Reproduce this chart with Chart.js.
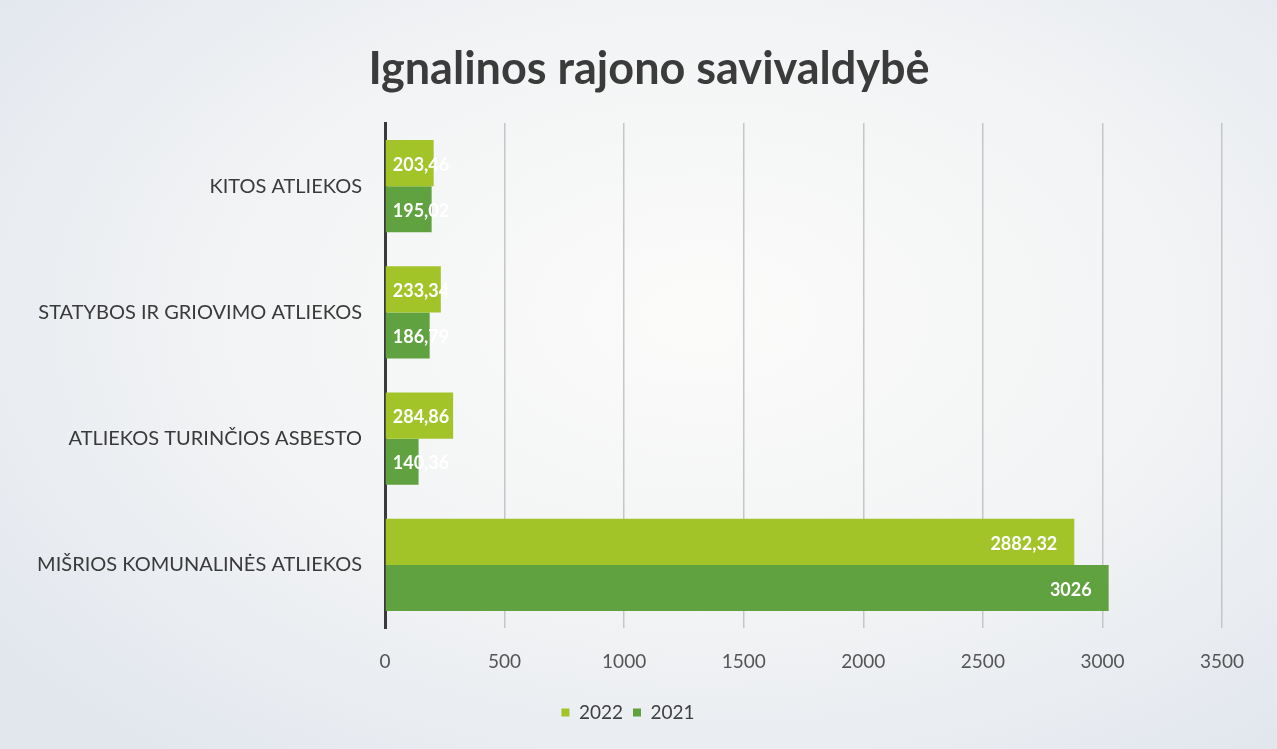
<!DOCTYPE html>
<html lang="lt">
<head>
<meta charset="utf-8">
<title>Ignalinos rajono savivaldybė</title>
<script src="https://cdn.jsdelivr.net/npm/chart.js@4.4.1/dist/chart.umd.min.js"></script>
<style>
  html, body { margin: 0; padding: 0; }
  body {
    width: 1277px; height: 749px; overflow: hidden;
    background: radial-gradient(ellipse 70% 75% at 55% 42%, #fbfbfa 0%, #f3f4f5 50%, #e2e7ee 100%);
  }
  #wrap { position: absolute; left: 0; top: 0; width: 1277px; height: 749px; }
</style>
</head>
<body>
<div id="wrap"><canvas id="chart" width="1277" height="749"></canvas></div>
<script>
  // ── Data ────────────────────────────────────────────────────────────────
  const chartTitle = 'Ignalinos rajono savivaldybė';
  const categories = [
    'KITOS ATLIEKOS',
    'STATYBOS IR GRIOVIMO ATLIEKOS',
    'ATLIEKOS TURINČIOS ASBESTO',
    'MIŠRIOS KOMUNALINĖS ATLIEKOS'
  ];
  const values2022 = [203.46, 233.34, 284.86, 2882.32];
  const values2021 = [195.02, 186.79, 140.36, 3026];
  const seriesNames = ['2022', '2021'];
  const xTicks = [0, 500, 1000, 1500, 2000, 2500, 3000, 3500];

  const COLOR_2022 = '#a2c428';
  const COLOR_2021 = '#5fa23f';
  const FONT = "Lato, 'Open Sans', sans-serif";
  const PAD_LEFT = 34;

  // Title drawn by hand so it can sit slightly right of the canvas centre
  const titlePlugin = {
    id: 'offsetTitle',
    afterDraw(chart) {
      const ctx = chart.ctx;
      ctx.save();
      ctx.font = 'bold 45px ' + FONT;
      ctx.fillStyle = '#3b3b3b';
      ctx.textAlign = 'center';
      ctx.textBaseline = 'alphabetic';
      ctx.fillText(chartTitle, 649, 84);
      ctx.restore();
    }
  };

  // Value labels inside bar end (white), comma as decimal separator
  const barLabels = {
    id: 'barLabels',
    afterDatasetsDraw(chart) {
      const ctx = chart.ctx;
      ctx.save();
      ctx.font = 'bold 18px ' + FONT;
      ctx.fillStyle = '#ffffff';
      ctx.textBaseline = 'middle';
      chart.data.datasets.forEach((ds, di) => {
        chart.getDatasetMeta(di).data.forEach((bar, i) => {
          const txt = String(ds.data[i]).replace('.', ',');
          const w = ctx.measureText(txt).width;
          const barW = bar.x - bar.base;
          if (w + 30 > barW) {
            ctx.textAlign = 'left';
            ctx.fillText(txt, bar.base + 7, bar.y + 2);
          } else {
            ctx.textAlign = 'right';
            ctx.fillText(txt, bar.x - 17, bar.y + 2);
          }
        });
      });
      ctx.restore();
    }
  };

  new Chart(document.getElementById('chart'), {
    type: 'bar',
    data: {
      labels: categories,
      datasets: [
        { label: seriesNames[0], data: values2022, backgroundColor: COLOR_2022 },
        { label: seriesNames[1], data: values2021, backgroundColor: COLOR_2021 }
      ]
    },
    options: {
      indexAxis: 'y',
      responsive: false,
      animation: false,
      events: [],
      categoryPercentage: 0.73,
      barPercentage: 1.0,
      layout: { padding: { left: PAD_LEFT, right: 55, top: 123, bottom: 17 } },
      plugins: {
        title: { display: false },
        legend: {
          position: 'bottom',
          labels: {
            color: '#404040',
            font: { family: FONT, size: 19 },
            boxWidth: 8,
            boxHeight: 8,
            padding: 10
          }
        },
        tooltip: { enabled: false }
      },
      scales: {
        x: {
          min: 0,
          max: 3500,
          afterBuildTicks: (axis) => { axis.ticks = xTicks.map(v => ({ value: v })); },
          afterFit: (axis) => { axis.height = 65; },
          grid: { color: '#c4c6c9', lineWidth: 1.5, drawTicks: false },
          border: { display: false },
          ticks: {
            color: '#555555',
            font: { family: FONT, size: 19 },
            padding: 22,
            callback: (v) => String(v)
          }
        },
        y: {
          afterFit: (axis) => { axis.width = 385 - PAD_LEFT; },
          grid: { display: false },
          border: { display: true, color: '#3a3a3a', width: 3 },
          ticks: {
            color: '#3a3a3a',
            font: { family: FONT, size: 20 },
            padding: 15
          }
        }
      }
    },
    plugins: [barLabels, titlePlugin]
  });
</script>
</body>
</html>
